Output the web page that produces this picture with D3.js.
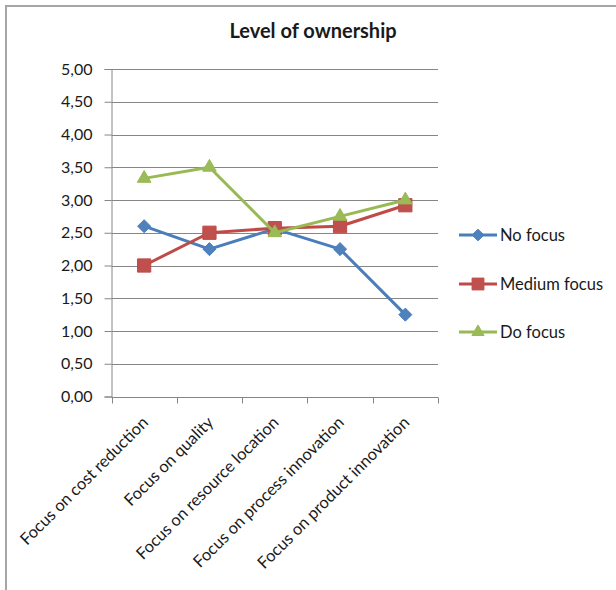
<!DOCTYPE html>
<html>
<head>
<meta charset="utf-8">
<script src="https://cdn.jsdelivr.net/npm/d3@7/dist/d3.min.js"></script>
<style>
  html, body { margin: 0; padding: 0; background: #fff; }
  svg { display: block; }
  text { font-family: Lato, "Open Sans", sans-serif; fill: #1a1a1a; }
</style>
</head>
<body>
<svg id="chart" width="616" height="590"></svg>
<script>
// Chart content
const chartTitle = "Level of ownership";
const categories = [
  "Focus on cost reduction",
  "Focus on quality",
  "Focus on resource location",
  "Focus on process innovation",
  "Focus on product innovation"
];
const seriesNames = ["No focus", "Medium focus", "Do focus"];
const noFocus     = [2.60, 2.25, 2.56, 2.25, 1.25];
const mediumFocus = [2.00, 2.50, 2.57, 2.60, 2.92];
const doFocus     = [3.33, 3.50, 2.50, 2.75, 3.00];
const yTicks = [0, 0.5, 1, 1.5, 2, 2.5, 3, 3.5, 4, 4.5, 5];

const seriesValues = [noFocus, mediumFocus, doFocus];
const lineColors   = ["#4a7ebb", "#be4b48", "#98b954"];
const markerFills  = ["#4f81bd", "#c0504d", "#9bbb59"];

// Diamond drawn as a square turned by 45 degrees (equal width and height)
const squareDiamond = {
  draw(ctx, size) {
    const r = Math.sqrt(size / 2);
    ctx.moveTo(0, -r); ctx.lineTo(r, 0); ctx.lineTo(0, r); ctx.lineTo(-r, 0); ctx.closePath();
  }
};
const markerShapes = [squareDiamond, d3.symbolSquare, d3.symbolTriangle];
const markerSizes  = [85, 175, 80];

const svg = d3.select("#chart");
const fmt = v => d3.format(".2f")(v).replace(".", ",");

// Plot area
const plot = { left: 111.5, right: 438, top: 69, bottom: 396.5 };

const x = d3.scaleBand()
  .domain(categories)
  .range([plot.left, plot.right])
  .paddingInner(0).paddingOuter(0);

const y = d3.scaleLinear()
  .domain([0, 5])
  .range([plot.bottom, plot.top]);

// Outer frame (top and left edges)
svg.append("path")
  .attr("d", "M6,590V6H616")
  .attr("fill", "none")
  .attr("stroke", "#a6a6a6")
  .attr("stroke-width", 2);

// Title
svg.append("text")
  .attr("x", 313)
  .attr("y", 38)
  .attr("text-anchor", "middle")
  .style("font-weight", "bold")
  .style("font-size", "20px")
  .text(chartTitle);

// Horizontal gridlines
svg.append("g")
  .selectAll("line")
  .data(yTicks)
  .join("line")
  .attr("x1", plot.left)
  .attr("x2", plot.right)
  .attr("y1", d => Math.round(y(d)) + 0.5)
  .attr("y2", d => Math.round(y(d)) + 0.5)
  .attr("stroke", "#868686")
  .attr("stroke-width", 1);

// Y axis
const yAxis = svg.append("g")
  .attr("transform", `translate(${plot.left},0)`)
  .call(d3.axisLeft(y).tickValues(yTicks).tickFormat(fmt).tickSize(7).tickPadding(12));
yAxis.select(".domain").attr("stroke", "#868686");
yAxis.selectAll(".tick line").attr("stroke", "#868686");
yAxis.selectAll(".tick text")
  .style("font-family", "Lato, sans-serif")
  .style("font-size", "16px")
  .attr("fill", "#1a1a1a");

// X axis with ticks on category boundaries
const xAxisG = svg.append("g")
  .attr("transform", `translate(0,${Math.round(plot.bottom) + 0.5})`);
xAxisG.append("line")
  .attr("x1", plot.left).attr("x2", plot.right)
  .attr("stroke", "#868686");
const boundaries = categories.map(c => x(c)).concat([x.range()[1]]);
xAxisG.selectAll("line.bt")
  .data(boundaries)
  .join("line")
  .attr("class", "bt")
  .attr("x1", d => Math.round(d) + 0.5).attr("x2", d => Math.round(d) + 0.5)
  .attr("y1", 0).attr("y2", 6)
  .attr("stroke", "#868686");

// Rotated category labels
svg.append("g")
  .selectAll("text")
  .data(categories)
  .join("text")
  .attr("transform", d => `translate(${x(d) + x.bandwidth() / 2 + 1},${plot.bottom + 23}) rotate(-45)`)
  .attr("text-anchor", "end")
  .attr("dy", "0.35em")
  .style("font-size", "16.5px")
  .text(d => d);

// Series lines and markers
const line = d3.line()
  .x((d, i) => x(categories[i]) + x.bandwidth() / 2)
  .y(d => y(d));

seriesValues.forEach((vals, s) => {
  svg.append("path")
    .datum(vals)
    .attr("d", line)
    .attr("fill", "none")
    .attr("stroke", lineColors[s])
    .attr("stroke-width", 3)
    .attr("stroke-linejoin", "round");
  svg.append("g")
    .selectAll("path")
    .data(vals)
    .join("path")
    .attr("transform", (d, i) => `translate(${x(categories[i]) + x.bandwidth() / 2},${y(d)})`)
    .attr("d", d3.symbol().type(markerShapes[s]).size(markerSizes[s]))
    .attr("fill", markerFills[s])
    .attr("stroke", lineColors[s])
    .attr("stroke-width", 1);
});

// Legend
const legendY = [235, 284, 332];
const legend = svg.append("g");
seriesNames.forEach((name, s) => {
  const g = legend.append("g").attr("transform", `translate(0,${legendY[s]})`);
  g.append("line")
    .attr("x1", 459).attr("x2", 497)
    .attr("stroke", lineColors[s])
    .attr("stroke-width", 3);
  g.append("path")
    .attr("transform", "translate(478,0)")
    .attr("d", d3.symbol().type(markerShapes[s]).size(markerSizes[s] * 0.8))
    .attr("fill", markerFills[s])
    .attr("stroke", lineColors[s])
    .attr("stroke-width", 1);
  g.append("text")
    .attr("x", 500)
    .attr("dy", "0.35em")
    .style("font-size", "16.5px")
    .text(name);
});
</script>
</body>
</html>
